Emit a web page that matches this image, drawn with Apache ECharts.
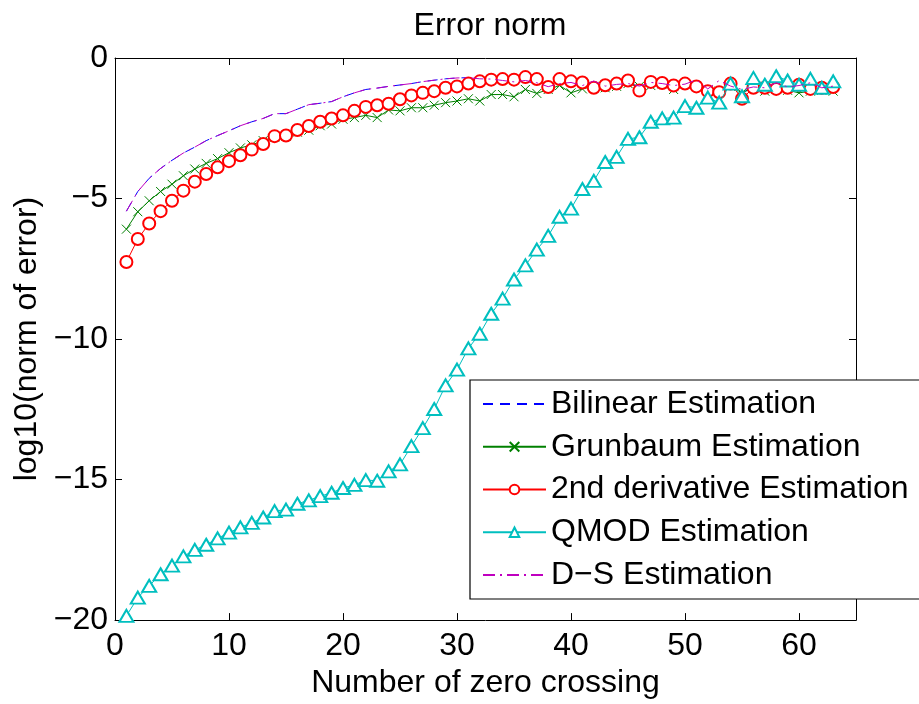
<!DOCTYPE html>
<html>
<head>
<meta charset="utf-8">
<script src="https://cdn.jsdelivr.net/npm/echarts@6/dist/echarts.min.js"></script>
<style>html,body{margin:0;padding:0;background:#fff}#c{width:919px;height:704px}</style>
</head>
<body>
<div id="c"></div>
<script>
// x: number of zero crossings
var xs = [];
for (var i = 1; i <= 63; i++) xs.push(i);

var bilinear = [-5.45,-4.75,-4.28,-3.93,-3.64,-3.38,-3.17,-2.94,-2.76,-2.59,
  -2.41,-2.27,-2.15,-1.98,-1.98,-1.82,-1.66,-1.61,-1.55,-1.38,
  -1.24,-1.12,-1.07,-1.01,-0.96,-0.91,-0.84,-0.79,-0.74,-0.71,
  -0.70,-0.74,-0.75,-0.80,-0.85,-0.83,-0.90,-1.06,-0.91,-0.87,
  -0.98,-1.05,-1.00,-0.94,-0.91,-1.00,-0.87,-0.91,-0.98,-0.93,
  -1.03,-1.12,-1.18,-1.00,-1.24,-1.03,-1.06,-0.98,-1.03,-0.98,
  -1.00,-1.06,-1.00];

var grunbaum = [-6.09,-5.47,-5.08,-4.75,-4.49,-4.19,-3.95,-3.75,-3.58,-3.37,
  -3.20,-3.09,-2.94,-2.82,-2.78,-2.64,-2.57,-2.41,-2.35,-2.18,
  -2.12,-2.04,-2.12,-1.85,-1.88,-1.77,-1.77,-1.68,-1.59,-1.53,
  -1.45,-1.53,-1.30,-1.30,-1.38,-1.12,-1.26,-1.12,-0.98,-1.24,
  -1.10,-1.01,-1.06,-1.01,-0.91,-1.01,-0.98,-0.92,-1.12,-0.91,
  -0.98,-1.15,-1.18,-1.01,-1.24,-1.06,-1.18,-1.10,-1.15,-1.24,
  -1.18,-1.15,-1.18];

var secondDeriv = [-7.26,-6.44,-5.89,-5.45,-5.08,-4.72,-4.40,-4.13,-3.89,-3.67,
  -3.46,-3.26,-3.06,-2.78,-2.76,-2.56,-2.42,-2.27,-2.15,-2.04,
  -1.88,-1.74,-1.68,-1.63,-1.47,-1.33,-1.24,-1.18,-1.06,-1.01,
  -0.91,-0.83,-0.77,-0.75,-0.77,-0.68,-0.75,-1.03,-0.75,-0.83,
  -0.87,-1.06,-0.97,-0.91,-0.80,-1.16,-0.85,-0.89,-0.98,-0.91,
  -1.01,-1.18,-1.22,-0.91,-1.45,-1.06,-1.06,-1.10,-1.06,-0.95,
  -1.10,-1.06,-1.03];

var qmod = [-19.85,-19.20,-18.78,-18.37,-18.06,-17.73,-17.50,-17.32,-17.09,-16.89,
  -16.70,-16.54,-16.35,-16.12,-16.07,-15.86,-15.74,-15.59,-15.47,-15.30,
  -15.19,-15.02,-15.04,-14.71,-14.46,-13.81,-13.17,-12.49,-11.65,-11.09,
  -10.33,-9.81,-9.10,-8.56,-7.88,-7.38,-6.82,-6.33,-5.65,-5.36,
  -4.66,-4.37,-3.70,-3.52,-2.88,-2.82,-2.27,-2.15,-2.12,-1.71,
  -1.77,-1.41,-1.59,-0.91,-1.36,-0.71,-0.95,-0.65,-0.80,-0.95,
  -0.74,-1.06,-0.83];

var ds = [-5.45,-4.75,-4.28,-3.93,-3.64,-3.38,-3.17,-2.94,-2.76,-2.59,
  -2.41,-2.27,-2.15,-1.98,-1.98,-1.82,-1.66,-1.61,-1.55,-1.38,
  -1.24,-1.12,-1.07,-1.01,-0.96,-0.91,-0.84,-0.79,-0.74,-0.71,
  -0.70,-0.74,-0.75,-0.80,-0.85,-0.80,-0.88,-1.02,-0.91,-0.87,
  -0.98,-0.82,-1.00,-0.94,-0.91,-1.00,-0.87,-0.91,-0.98,-0.93,
  -0.78,-1.10,-0.80,-1.00,-1.12,-1.03,-1.06,-0.88,-1.03,-0.98,
  -0.88,-1.06,-1.00];

var seriesNames = ['Bilinear Estimation','Grunbaum Estimation','2nd derivative Estimation','QMOD Estimation','D\u2212S Estimation'];
var xTicks = [0,10,20,30,40,50,60];
var yTicks = [-20,-15,-10,-5,0];

function pairs(arr){ return arr.map(function(v,i){ return [xs[i], v]; }); }

var FONT = 'Liberation Sans, Arial, Helvetica, sans-serif';
var FS = 32;
var minusFmt = function(v){ return String(v).replace('-', '\u2212'); };

var chart = echarts.init(document.getElementById('c'), null, {renderer:'canvas'});
var axisCommon = {
  axisLine:{show:true, onZero:false, lineStyle:{color:'#000', width:1}},
  axisTick:{show:true, inside:true, length:7, lineStyle:{color:'#000', width:1}},
  splitLine:{show:false}
};
var hiddenSym = {opacity:0, color:'transparent', borderColor:'transparent'};
chart.setOption({
  animation:false,
  backgroundColor:'#fff',
  title:{text:'Error norm', left:485, textAlign:'center', top:5,
    textStyle:{fontFamily:FONT, fontSize:FS, fontWeight:'normal', color:'#000'}},
  grid:{left:115, right:63, top:58, bottom:76, containLabel:false},
  xAxis:[
    Object.assign({type:'value', min:0, max:65, interval:10, position:'bottom',
      name:'Number of zero crossing', nameLocation:'middle', nameGap:43,
      nameTextStyle:{fontFamily:FONT, fontSize:FS, color:'#000'},
      axisLabel:{fontFamily:FONT, fontSize:FS, color:'#000', margin:10,
        formatter:function(v){ return xTicks.indexOf(v) >= 0 ? minusFmt(v) : ''; }}
    }, axisCommon),
    Object.assign({type:'value', min:0, max:65, interval:10, position:'top',
      axisLabel:{show:false}}, axisCommon)
  ],
  yAxis:[
    Object.assign({type:'value', min:-20, max:0, interval:5, position:'left',
      name:'log10(norm of error)', nameLocation:'middle', nameGap:68,
      nameTextStyle:{fontFamily:FONT, fontSize:FS, color:'#000'},
      axisLabel:{fontFamily:FONT, fontSize:FS, color:'#000', margin:7,
        formatter:function(v){ return yTicks.indexOf(v) >= 0 ? minusFmt(v) : ''; }}
    }, axisCommon),
    Object.assign({type:'value', min:-20, max:0, interval:5, position:'right',
      axisLabel:{show:false}}, axisCommon)
  ],
  legend:{
    orient:'vertical', left:470, top:380,
    padding:[8, 30, 8, 12],
    itemWidth:63, itemHeight:12, itemGap:10.75,
    backgroundColor:'#fff', borderColor:'#000', borderWidth:1.2,
    textStyle:{fontFamily:FONT, fontSize:FS, color:'#000', lineHeight:30},
    data:[
      {name:seriesNames[0], itemStyle:hiddenSym},
      {name:seriesNames[1]},
      {name:seriesNames[2]},
      {name:seriesNames[3]},
      {name:seriesNames[4], itemStyle:hiddenSym}
    ]
  },
  series:[
    {name:seriesNames[0], type:'line', data:pairs(bilinear), symbol:'none',
      lineStyle:{color:'#0000FF', width:1, type:[10,7]}, itemStyle:{color:'#0000FF'}, z:2},
    {name:seriesNames[1], type:'line', data:pairs(grunbaum),
      symbol:'path://M0,0L10,10M10,0L0,10', symbolSize:9,
      lineStyle:{color:'#008000', width:1}, itemStyle:{color:'#008000', borderColor:'#008000', borderWidth:1}, z:3},
    {name:seriesNames[2], type:'line', data:pairs(secondDeriv),
      symbol:'emptyCircle', symbolSize:12,
      lineStyle:{color:'#FF0000', width:1}, itemStyle:{color:'#FF0000', borderColor:'#FF0000', borderWidth:1}, z:4},
    {name:seriesNames[3], type:'line', data:pairs(qmod),
      symbol:'emptyTriangle', symbolSize:[14,12],
      lineStyle:{color:'#00BFBF', width:1}, itemStyle:{color:'#00BFBF', borderColor:'#00BFBF', borderWidth:1}, z:5},
    {name:seriesNames[4], type:'line', data:pairs(ds), symbol:'none',
      lineStyle:{color:'#BF00BF', width:1, type:[12,5,2,5]}, itemStyle:{color:'#BF00BF'}, z:6}
  ]
});
</script>
</body>
</html>
